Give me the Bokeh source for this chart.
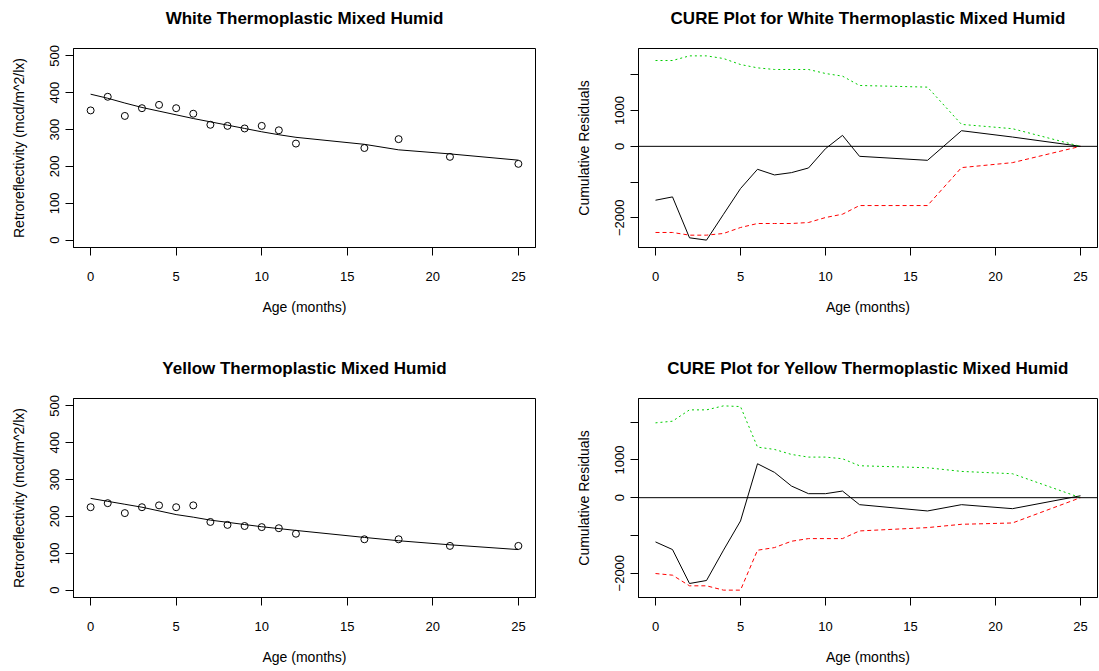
from bokeh.plotting import figure
from bokeh.models import Range1d, FixedTicker, Span, ColumnDataSource, LinearAxis
from bokeh.layouts import gridplot
from bokeh.embed import file_html
from bokeh.resources import INLINE

# ---- data ----
age = [0, 1, 2, 3, 4, 5, 6, 7, 8, 9, 10, 11, 12, 16, 18, 21, 25]

white_obs = [352, 389, 337, 358, 367, 358, 343, 313, 310, 303, 310, 298, 262, 250, 274, 226, 207]
white_fit = [396, 385, 372, 360, 350, 340, 330, 321, 312, 303, 294, 286, 279, 260, 245, 234, 217]

yellow_obs = [225, 236, 209, 225, 230, 225, 230, 185, 177, 174, 171, 168, 153, 138, 138, 120, 120]
yellow_fit = [249, 241, 233, 225, 215, 205, 198, 190, 184, 178, 172, 167, 162, 143, 134, 123, 110]

white_cure = [-1507, -1414, -2558, -2623, -1900, -1181, -642, -800, -735, -605, -65, 307, -279, -391, 437, 260, 0]
white_upper = [2400, 2400, 2530, 2530, 2456, 2288, 2195, 2149, 2149, 2149, 2037, 1963, 1702, 1656, 614, 493, 0]
white_lower = [-2409, -2409, -2484, -2484, -2437, -2270, -2158, -2158, -2158, -2130, -1991, -1898, -1656, -1656, -595, -456, 0]

yellow_cure = [-1172, -1374, -2273, -2194, -1390, -617, 899, 670, 308, 106, 106, 176, -185, -352, -185, -291, 50]
yellow_upper = [1982, 2026, 2326, 2326, 2432, 2414, 1339, 1278, 1145, 1075, 1075, 1031, 846, 793, 696, 634, 0]
yellow_lower = [-2009, -2053, -2335, -2335, -2449, -2449, -1392, -1322, -1154, -1084, -1084, -1084, -881, -793, -705, -670, 0]

x_ticks = [0, 5, 10, 15, 20, 25]
retro_ticks = [0, 100, 200, 300, 400, 500]
cure_ticks = [-2000, -1000, 0, 1000, 2000]
cure_hidden = {2000: "", -1000: ""}

titles = ["White Thermoplastic Mixed Humid",
          "CURE Plot for White Thermoplastic Mixed Humid",
          "Yellow Thermoplastic Mixed Humid",
          "CURE Plot for Yellow Thermoplastic Mixed Humid"]

FONT = "Liberation Sans"


def pad(lo, hi, f=0.04):
    d = (hi - lo) * f
    return lo - d, hi + d


def make_fig(title, left, width, top, height, bottom, yr, yticks, ylabel, overrides=None):
    frame_w = 462 if left < 76 else 459
    p = figure(width=width, height=height, output_backend="svg", toolbar_location=None,
               min_border_left=left, min_border_right=width - left - frame_w,
               min_border_top=top, min_border_bottom=bottom,
               x_range=Range1d(*pad(0, 25)), y_range=Range1d(*yr))
    p.outline_line_color = "black"
    p.outline_line_width = 1
    p.outline_line_alpha = 1
    p.xgrid.visible = False
    p.ygrid.visible = False
    p.background_fill_color = "white"
    p.border_fill_color = "white"
    xax = p.below[0]
    yax = p.left[0]
    for ax in (xax, yax):
        ax.axis_line_color = "black"
        ax.major_tick_line_color = "black"
        ax.major_tick_out = 8
        ax.major_tick_in = 0
        ax.minor_tick_line_color = None
        ax.major_label_text_font = FONT
        ax.major_label_text_font_size = "13px"
        ax.major_label_text_color = "black"
        ax.axis_label_text_font = FONT
        ax.axis_label_text_font_size = "14px"
        ax.axis_label_text_font_style = "normal"
        ax.axis_label_text_color = "black"
    xax.ticker = FixedTicker(ticks=x_ticks)
    xax.axis_label = "Age (months)"
    xax.major_label_standoff = 16
    xax.axis_label_standoff = 15
    yax.ticker = FixedTicker(ticks=yticks)
    yax.axis_label = ylabel
    yax.major_label_orientation = "vertical"
    yax.major_label_standoff = 6
    yax.axis_label_standoff = 21
    if overrides:
        yax.major_label_overrides = overrides

    # title drawn as the label of an empty axis above the frame
    tax = LinearAxis(ticker=FixedTicker(ticks=[]), axis_label=title)
    tax.axis_line_color = None
    tax.major_tick_line_color = None
    tax.minor_tick_line_color = None
    tax.axis_label_text_font = FONT
    tax.axis_label_text_font_size = "17px"
    tax.axis_label_text_font_style = "bold"
    tax.axis_label_text_color = "black"
    tax.axis_label_standoff = 21
    p.add_layout(tax, "above")
    return p


def scatter_panel(title, obs, fit, top_h, bottom):
    p = make_fig(title, 73, 560, 48, top_h, bottom, pad(0, 500), retro_ticks,
                 "Retroreflectivity (mcd/m^2/lx)")
    src = ColumnDataSource(dict(age=age, obs=obs, fit=fit))
    p.line("age", "fit", source=src, line_color="black", line_width=1)
    p.scatter("age", "obs", source=src, size=7, fill_color=None, line_color="black", line_width=1)
    return p


def cure_panel(title, cure, upper, lower, top_h, bottom):
    allv = cure + upper + lower
    p = make_fig(title, 78, 539, 48, top_h, bottom, pad(min(allv), max(allv)), cure_ticks,
                 "Cumulative Residuals", cure_hidden)
    src = ColumnDataSource(dict(age=age, cure=cure, upper=upper, lower=lower))
    p.add_layout(Span(location=0, dimension="width", line_color="black", line_width=1))
    p.line("age", "cure", source=src, line_color="black", line_width=1)
    p.line("age", "upper", source=src, line_color="#00CD00", line_width=1, line_dash="2 3")
    p.line("age", "lower", source=src, line_color="#FF0000", line_width=1, line_dash="4 3")
    return p


p1 = scatter_panel(titles[0], white_obs, white_fit, 350, 103)
p2 = cure_panel(titles[1], white_cure, white_upper, white_lower, 350, 103)
p3 = scatter_panel(titles[2], yellow_obs, yellow_fit, 321, 74)
p4 = cure_panel(titles[3], yellow_cure, yellow_upper, yellow_lower, 321, 74)

grid = gridplot([[p1, p2], [p3, p4]], toolbar_location=None)

open("out.html", "w").write(file_html(grid, INLINE))
